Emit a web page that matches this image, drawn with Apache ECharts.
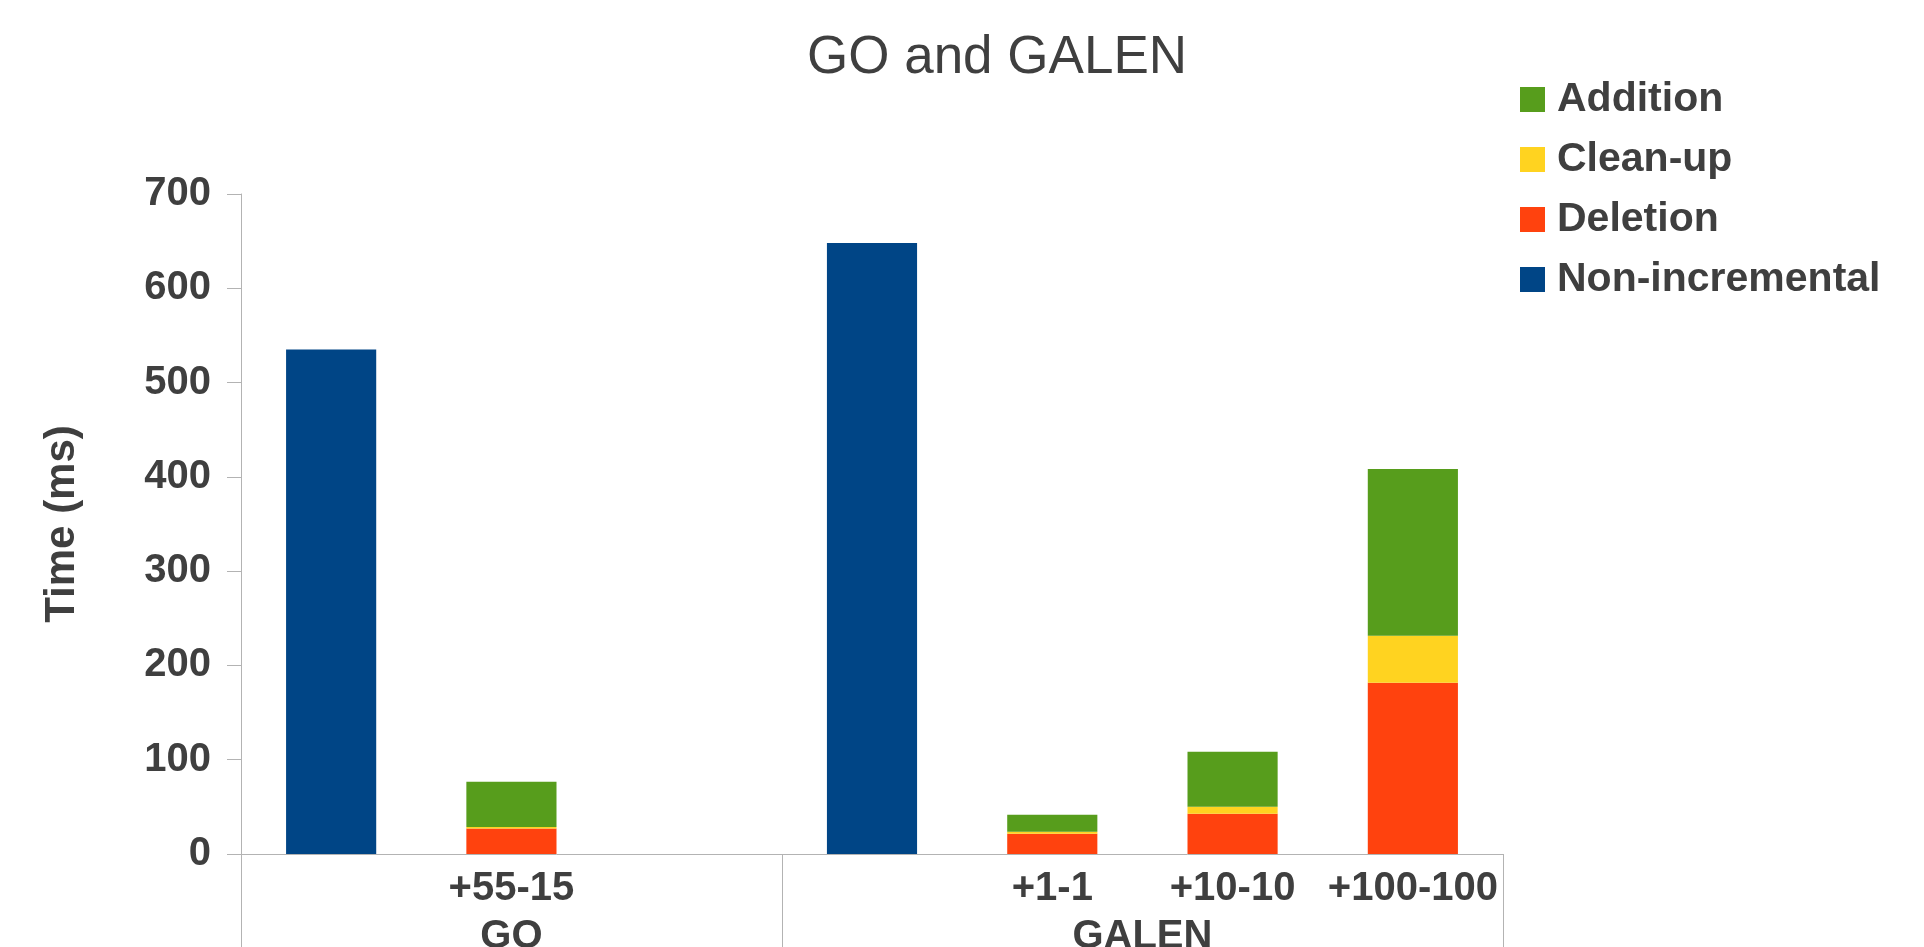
<!DOCTYPE html>
<html>
<head>
<meta charset="utf-8">
<script src="https://cdn.jsdelivr.net/npm/echarts@6/dist/echarts.min.js"></script>
<style>
html,body{margin:0;padding:0;background:#fff;}
#chart{width:1924px;height:947px;}
</style>
</head>
<body>
<div id="chart"></div>
<script>
// Data
var categories = ['', '+55-15', '', '', '+1-1', '+10-10', '+100-100'];
var groupLabels = ['GO', 'GALEN'];
var groupLabelPos = [1.5, 5];          // centers of group spans, in slot units
var groupBounds = [0, 3, 7];           // group separators, in slot units
var deletion      = [null, 27, null, null, 21.5, 42.7, 181.7];
var cleanup       = [null, 1.6, null, null, 2, 7.5, 49.8];
var addition      = [null, 48, null, null, 18.2, 58.3, 176.8];
var nonIncremental= [535, null, null, 648, null, null, null];
var yTicks = [0, 100, 200, 300, 400, 500, 600, 700];

var textColor = '#3f3f3f';
var axisColor = '#b3b3b3';
var font = 'Liberation Sans, Arial, sans-serif';

var chart = echarts.init(document.getElementById('chart'));
chart.setOption({
  animation: false,
  backgroundColor: '#ffffff',
  title: {
    text: 'GO and GALEN',
    left: 997,
    top: 32,
    padding: 0,
    textAlign: 'center',
    textStyle: { fontFamily: font, fontSize: 53, fontWeight: 'normal', color: textColor }
  },
  legend: {
    orient: 'vertical',
    left: 1520,
    top: 79,
    padding: 0,
    itemWidth: 25,
    itemHeight: 25,
    itemGap: 19,
    icon: 'rect',
    data: ['Addition', 'Clean-up', 'Deletion', 'Non-incremental'],
    textStyle: { fontFamily: font, fontSize: 41, fontWeight: 'bold', color: textColor, lineHeight: 40, padding: [0, 0, 0, 7] }
  },
  grid: { left: 241, right: 421, top: 194, bottom: 93, containLabel: false, outerBoundsMode: 'none' },
  xAxis: [{
    type: 'category',
    data: categories,
    boundaryGap: true,
    axisLine: { show: true, lineStyle: { color: axisColor, width: 1 } },
    axisTick: { show: false },
    axisLabel: { interval: 0, margin: 15, fontFamily: font, fontSize: 40, fontWeight: 'bold', color: textColor },
    splitLine: { show: false }
  }, {
    type: 'value',
    position: 'bottom',
    min: 0,
    max: 7,
    axisLine: { show: false },
    axisTick: { show: true, inside: false, length: 110, customValues: groupBounds, lineStyle: { color: axisColor, width: 1 } },
    axisLabel: {
      show: true,
      customValues: groupLabelPos,
      margin: 63,
      fontFamily: font, fontSize: 40, fontWeight: 'bold', color: textColor,
      formatter: function (v) {
        var i = groupLabelPos.indexOf(v);
        return i >= 0 ? groupLabels[i] : '';
      }
    },
    splitLine: { show: false }
  }],
  yAxis: {
    type: 'value',
    min: yTicks[0],
    max: yTicks[yTicks.length - 1],
    interval: 100,
    name: 'Time (ms)',
    nameLocation: 'middle',
    nameGap: 158,
    nameTextStyle: { fontFamily: font, fontSize: 42, fontWeight: 'bold', color: textColor },
    axisLine: { show: true, lineStyle: { color: axisColor, width: 1 } },
    axisTick: { show: true, inside: false, length: 14, lineStyle: { color: axisColor, width: 1 } },
    axisLabel: { margin: 30, fontFamily: font, fontSize: 40, fontWeight: 'bold', color: textColor },
    splitLine: { show: false }
  },
  series: [
    { name: 'Deletion', type: 'bar', stack: 'all', xAxisIndex: 0, barWidth: '50%', data: deletion, itemStyle: { color: '#ff420e' } },
    { name: 'Clean-up', type: 'bar', stack: 'all', xAxisIndex: 0, barWidth: '50%', data: cleanup, itemStyle: { color: '#ffd320' } },
    { name: 'Addition', type: 'bar', stack: 'all', xAxisIndex: 0, barWidth: '50%', data: addition, itemStyle: { color: '#579d1c' } },
    { name: 'Non-incremental', type: 'bar', stack: 'all', xAxisIndex: 0, barWidth: '50%', data: nonIncremental, itemStyle: { color: '#004586' } }
  ]
});
</script>
</body>
</html>
